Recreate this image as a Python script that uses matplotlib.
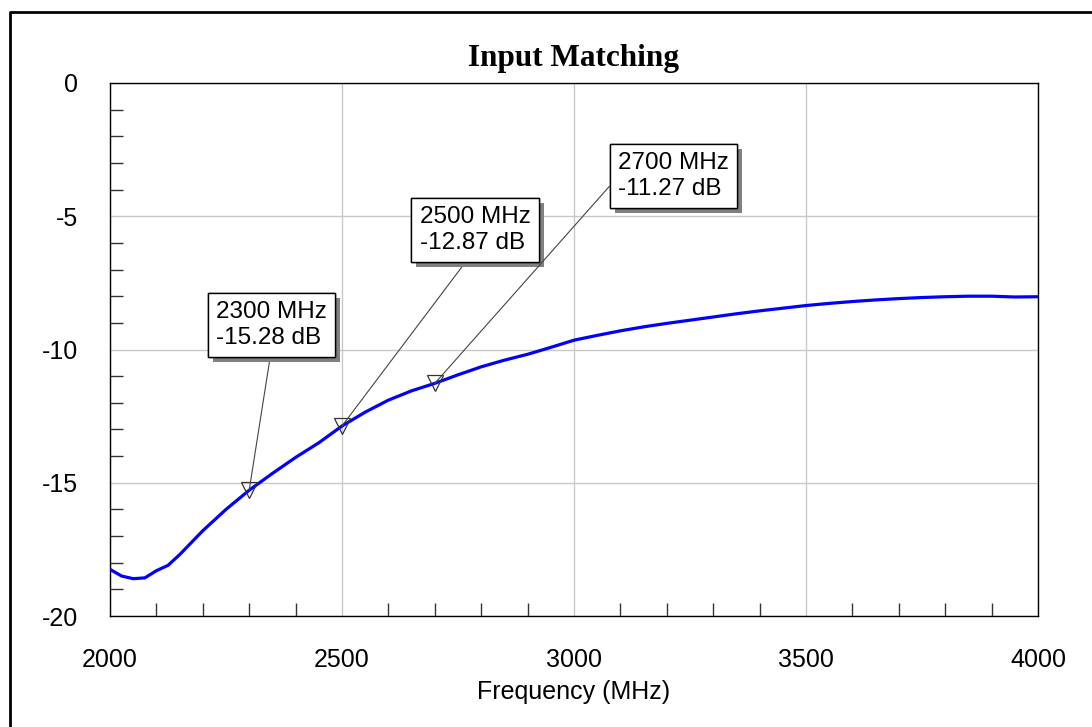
import matplotlib
matplotlib.use("Agg")
import matplotlib.pyplot as plt
from matplotlib.lines import Line2D
from matplotlib.ticker import MultipleLocator
import matplotlib.patheffects as pe

plt.rcParams["axes.unicode_minus"] = False

# ---- data ----
freq_mhz = [2000, 2025, 2050, 2075, 2100, 2125, 2150, 2200, 2250, 2300, 2350, 2400,
            2450, 2500, 2550, 2600, 2650, 2700, 2750, 2800, 2850, 2900, 2950, 3000,
            3050, 3100, 3150, 3200, 3250, 3300, 3350, 3400, 3450, 3500, 3550, 3600,
            3650, 3700, 3750, 3800, 3850, 3900, 3950, 4000]
s11_db = [-18.25, -18.5, -18.6, -18.57, -18.3, -18.1, -17.7, -16.8, -16.0, -15.28,
          -14.65, -14.05, -13.5, -12.87, -12.35, -11.9, -11.55, -11.27, -10.95, -10.65,
          -10.4, -10.18, -9.92, -9.65, -9.47, -9.3, -9.15, -9.02, -8.9, -8.78, -8.66,
          -8.55, -8.45, -8.35, -8.27, -8.2, -8.14, -8.09, -8.05, -8.02, -8.0, -8.0,
          -8.03, -8.02]
marker_freq = [2300, 2500, 2700]
marker_db = [-15.28, -12.87, -11.27]
marker_labels = ["2300 MHz\n-15.28 dB", "2500 MHz\n-12.87 dB", "2700 MHz\n-11.27 dB"]
x_ticks = [2000, 2500, 3000, 3500, 4000]
y_ticks = [0, -5, -10, -15, -20]
title = "Input Matching"
x_label = "Frequency (MHz)"

# ---- figure ----
W, H = 1092, 727
fig = plt.figure(figsize=(W / 100, H / 100), dpi=100)
ax = fig.add_axes([110 / W, 1 - 616 / H, 928 / W, 533 / H])

sans = "Liberation Sans"
serif = "Liberation Serif"

ax.plot(freq_mhz, s11_db, color="#0000ff", lw=2.3, zorder=3, solid_capstyle="butt")
ax.plot(marker_freq, marker_db, linestyle="none", marker="v", markersize=11,
        markerfacecolor="none", markeredgecolor="#333333", markeredgewidth=0.9, zorder=4)

ax.set_xlim(2000, 4000)
ax.set_ylim(-20, 0)
ax.set_xticks(x_ticks)
ax.set_yticks(y_ticks)
ax.xaxis.set_minor_locator(MultipleLocator(100))
ax.yaxis.set_minor_locator(MultipleLocator(1))
ax.tick_params(which="major", length=0, pad=23, labelsize=18)
ax.tick_params(which="minor", direction="in", length=9.3, width=1, color="#333333")
for lab in ax.get_xticklabels() + ax.get_yticklabels():
    lab.set_fontfamily(sans)
ax.grid(True, which="major", color="#c8c8c8", lw=1)
ax.set_axisbelow(True)
for s in ax.spines.values():
    s.set_color("black")
    s.set_linewidth(1)

ax.set_xlabel(x_label, fontsize=18, fontfamily=sans, labelpad=6)
ax.set_title(title, fontsize=22.5, fontfamily=serif, fontweight="bold", pad=12)

# annotation boxes (centre positions and leader attachment)
box_pos = [(2348, -9.08), (2787, -5.51), (3215, -3.50)]
relpos = [(0.5, 0.0), (0.47, 0.0), (0.0, 0.5)]
for fx, dbv, lab, bp, rp in zip(marker_freq, marker_db, marker_labels, box_pos, relpos):
    t = ax.annotate(lab, xy=(fx, dbv), xytext=bp, textcoords="data",
                    ha="center", va="center", multialignment="left",
                    fontsize=17.5, fontfamily=sans, linespacing=1.22, zorder=6,
                    bbox=dict(boxstyle="square,pad=0.34", fc="white", ec="black", lw=1),
                    arrowprops=dict(arrowstyle="-", color="#444444", lw=0.8,
                                    relpos=rp, shrinkA=0, shrinkB=0))
    t.get_bbox_patch().set_path_effects([
        pe.withSimplePatchShadow(offset=(3.6, -3.6), shadow_rgbFace="#808080", alpha=1.0),
        pe.Normal()])

# outer frame (top and left edges visible)
fig.add_artist(Line2D([9.5 / W, 9.5 / W, 1.0], [0.0, 1 - 12 / H, 1 - 12 / H],
                      transform=fig.transFigure, color="black", lw=2))

fig.savefig("out.png", dpi=100)
